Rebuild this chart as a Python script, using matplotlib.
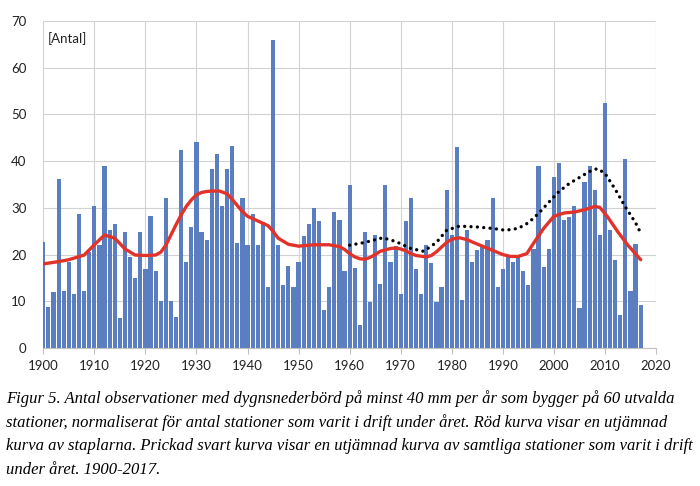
import matplotlib
matplotlib.use("Agg")
import matplotlib.pyplot as plt

years = list(range(1900, 2018))
counts = [
    22.7, 8.8, 12.0, 36.2, 12.2, 18.5, 11.6, 28.6, 12.2, 20.6,   # 1900-1909
    30.4, 22.0, 38.9, 25.3, 26.6, 6.5, 24.9, 19.5, 14.9, 24.9,   # 1910-1919
    16.9, 28.2, 16.5, 10.1, 32.1, 10.1, 6.6, 42.3, 18.5, 26.0,   # 1920-1929
    44.0, 24.9, 23.2, 38.3, 41.6, 30.4, 38.3, 43.2, 22.5, 32.1,  # 1930-1939
    22.0, 28.7, 22.0, 26.9, 13.1, 66.0, 22.0, 13.4, 17.5, 13.1,  # 1940-1949
    18.5, 24.0, 26.6, 29.9, 27.1, 8.1, 13.1, 29.2, 27.5, 16.5,   # 1950-1959
    34.9, 17.1, 4.9, 24.9, 9.8, 24.2, 13.6, 34.9, 18.4, 21.9,    # 1960-1969
    11.6, 27.1, 32.2, 16.9, 11.6, 22.1, 18.3, 9.8, 13.1, 33.9,   # 1970-1979
    24.1, 43.0, 10.2, 25.3, 18.5, 20.9, 22.1, 23.2, 32.1, 13.1,  # 1980-1989
    16.9, 19.6, 18.4, 19.6, 16.5, 13.4, 21.2, 38.9, 17.4, 21.2,  # 1990-1999
    36.7, 39.5, 27.5, 28.0, 30.4, 8.5, 35.5, 38.9, 33.9, 24.1,   # 2000-2009
    52.5, 25.3, 18.9, 7.1, 40.5, 12.2, 22.3, 9.2,                # 2010-2017
]

# red smoothed curve of the bars
red_x = [1900, 1903, 1905, 1908, 1910, 1912, 1914, 1916, 1918, 1920, 1922, 1923,
         1924, 1925, 1926, 1927, 1928, 1929, 1930, 1931, 1932, 1933, 1934.5, 1936,
         1937, 1939, 1940, 1942, 1944, 1945, 1946, 1948, 1950, 1953, 1956, 1958,
         1959, 1960, 1961, 1962, 1963, 1964, 1965, 1966, 1968, 1969, 1970, 1971,
         1972, 1973, 1975, 1976, 1977, 1978, 1979, 1980, 1981.5, 1983, 1984, 1986,
         1988, 1990, 1991.5, 1993, 1994.7, 1996, 1998, 2000, 2002, 2004, 2006,
         2008, 2009, 2010.5, 2012.5, 2014.5, 2017]
red_y = [18.0, 18.5, 18.9, 19.9, 22.1, 24.2, 23.5, 21.2, 19.9, 19.8, 19.9, 20.5,
         22.0, 24.2, 26.4, 28.5, 30.3, 31.7, 32.8, 33.3, 33.5, 33.6, 33.6, 33.0,
         31.8, 29.2, 28.2, 27.2, 26.2, 25.0, 23.5, 22.2, 21.8, 22.1, 22.1, 21.7,
         21.1, 20.2, 19.5, 19.1, 19.0, 19.4, 20.0, 20.7, 21.3, 21.4, 21.2, 20.8,
         20.2, 19.8, 19.5, 19.8, 20.6, 21.6, 22.6, 23.3, 23.6, 23.2, 22.7, 21.8,
         20.9, 20.0, 19.6, 19.6, 20.2, 22.4, 25.6, 28.2, 28.9, 29.1, 29.6,
         30.3, 30.1, 28.1, 24.9, 22.0, 18.9]

# dotted black smoothed curve of all stations
blk_x = [1960, 1963, 1966.5, 1969, 1972, 1974.5, 1977, 1979, 1981.5, 1985, 1988,
         1990.5, 1993, 1995, 1997, 1999, 2001, 2003, 2005, 2007, 2008.5, 2010,
         2012, 2014, 2016, 2017]
blk_y = [22.0, 22.6, 23.6, 22.8, 21.3, 20.7, 22.6, 25.2, 26.1, 25.9, 25.6,
         25.2, 25.6, 26.8, 28.8, 31.2, 33.5, 35.2, 36.5, 37.8, 38.4, 37.4,
         34.0, 30.2, 26.8, 24.6]

x_ticks = list(range(1900, 2021, 10))
y_ticks = list(range(0, 71, 10))

caption = [
    "Figur 5. Antal observationer med dygnsnederbörd på minst 40 mm per år som bygger på 60 utvalda",
    "stationer, normaliserat för antal stationer som varit i drift under året. Röd kurva visar en utjämnad",
    "kurva av staplarna. Prickad svart kurva visar en utjämnad kurva av samtliga stationer som varit i drift",
    "under året. 1900-2017.",
]

W, H = 700, 486
fig = plt.figure(figsize=(W / 100, H / 100), dpi=100)
fig.patch.set_facecolor("white")
left, right, top, bottom = 43.3, 656, 21, 348
ax = fig.add_axes([left / W, 1 - bottom / H, (right - left) / W, (bottom - top) / H])

ax.bar(years, counts, width=0.82, color="#5a7ebf", zorder=2)
ax.plot(red_x, red_y, color="#e2332b", lw=2.4, zorder=3, solid_capstyle="round")
ax.plot(blk_x, blk_y, color="black", lw=2.4, linestyle=(0, (0.01, 1.9)),
        dash_capstyle="round", zorder=4)

ax.set_xlim(1900, 2020)
ax.set_ylim(0, 70)
ax.set_xticks(x_ticks)
ax.set_yticks(y_ticks)
ax.grid(True, color="#d2d2d2", lw=0.8, zorder=0)
ax.set_axisbelow(True)
for s in ["top", "right", "left"]:
    ax.spines[s].set_visible(False)
ax.spines["bottom"].set_color("#bfbfbf")
ax.spines["bottom"].set_linewidth(0.8)

ax.tick_params(axis="x", direction="out", length=4, color="#bfbfbf", pad=5)
ax.tick_params(axis="y", length=0, pad=12)
for lab in ax.get_xticklabels() + ax.get_yticklabels():
    lab.set_fontfamily(["Lato", "DejaVu Sans"])
    lab.set_fontsize(9.5)
    lab.set_color("#222222")

ax.text(0.008, 0.945, "[Antal]", transform=ax.transAxes, ha="left", va="center",
        fontsize=9.5, family=["Lato", "DejaVu Sans"], color="#222222")

ys = [403, 426.5, 450, 473.5]
for line, yb in zip(caption, ys):
    fig.text(6 / W, 1 - yb / H, line, ha="left", va="baseline",
             family=["Liberation Serif", "DejaVu Serif"], style="italic",
             fontsize=12.0, color="black")

fig.savefig("out.png", dpi=100, facecolor="white")
